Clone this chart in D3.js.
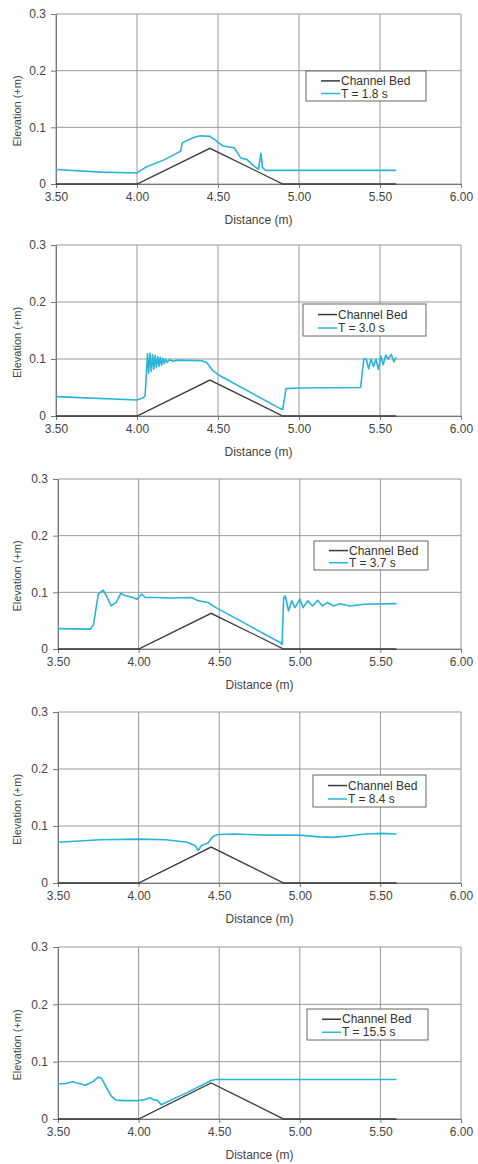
<!DOCTYPE html>
<html><head><meta charset="utf-8">
<script src="https://cdn.jsdelivr.net/npm/d3@7"></script>
<style>
body{margin:0;background:#fff}
svg{display:block}
text{font-family:"Liberation Sans",Arial,sans-serif}
</style>
</head><body>
<svg id="c" width="478" height="1164"></svg>
<script>
// ---- data ----
const xTicks = [3.5, 4.0, 4.5, 5.0, 5.5, 6.0];
const yTicks = [0, 0.1, 0.2, 0.3];
const bedX = [3.5, 4.0, 4.45, 4.9, 5.6];
const bedY = [0, 0, 0.063, 0, 0];
const bedLabel = "Channel Bed";
const seriesLabels = ["T = 1.8 s", "T = 3.0 s", "T = 3.7 s", "T = 8.4 s", "T = 15.5 s"];

const t18X = [3.5, 3.78, 4.0, 4.05, 4.17, 4.27, 4.28, 4.35, 4.39, 4.45, 4.49, 4.53, 4.6, 4.64, 4.68, 4.72, 4.75, 4.765, 4.775, 4.79, 4.8, 5.6];
const t18Y = [0.0255, 0.021, 0.0195, 0.029, 0.043, 0.058, 0.073, 0.082, 0.085, 0.084, 0.076, 0.067, 0.064, 0.046, 0.043, 0.032, 0.026, 0.054, 0.029, 0.025, 0.024, 0.024];

const t30X = [3.5, 4.0, 4.04, 4.05, 4.065, 4.072, 4.08, 4.088, 4.096, 4.104, 4.112, 4.12, 4.128, 4.136, 4.144, 4.152, 4.16, 4.168, 4.176, 4.185, 4.2, 4.22, 4.25, 4.4, 4.43, 4.47, 4.51, 4.89, 4.9, 4.92, 5.0, 5.38, 5.4, 5.415, 5.43, 5.445, 5.46, 5.475, 5.49, 5.505, 5.52, 5.535, 5.55, 5.57, 5.585, 5.6];
const t30Y = [0.034, 0.028, 0.032, 0.036, 0.109, 0.075, 0.11, 0.078, 0.108, 0.082, 0.106, 0.085, 0.104, 0.087, 0.103, 0.089, 0.101, 0.092, 0.1, 0.094, 0.099, 0.096, 0.098, 0.097, 0.094, 0.079, 0.071, 0.012, 0.012, 0.048, 0.049, 0.05, 0.1, 0.1, 0.083, 0.1, 0.087, 0.1, 0.082, 0.105, 0.09, 0.107, 0.1, 0.108, 0.095, 0.103];

const t37X = [3.5, 3.7, 3.72, 3.75, 3.78, 3.8, 3.83, 3.86, 3.89, 3.92, 3.95, 3.99, 4.02, 4.04, 4.1, 4.2, 4.33, 4.37, 4.43, 4.48, 4.88, 4.89, 4.9, 4.91, 4.93, 4.95, 4.97, 5.0, 5.02, 5.05, 5.08, 5.11, 5.14, 5.17, 5.21, 5.25, 5.31, 5.4, 5.6];
const t37Y = [0.036, 0.035, 0.043, 0.097, 0.104, 0.094, 0.076, 0.082, 0.098, 0.094, 0.092, 0.088, 0.097, 0.091, 0.091, 0.09, 0.091, 0.085, 0.082, 0.073, 0.011, 0.008, 0.091, 0.094, 0.067, 0.085, 0.073, 0.088, 0.073, 0.085, 0.076, 0.086, 0.076, 0.082, 0.076, 0.08, 0.076, 0.079, 0.08];

const t84X = [3.5, 3.76, 4.0, 4.17, 4.3, 4.35, 4.37, 4.39, 4.43, 4.46, 4.49, 4.59, 4.79, 5.0, 5.12, 5.21, 5.31, 5.41, 5.51, 5.6];
const t84Y = [0.0715, 0.076, 0.077, 0.076, 0.0715, 0.066, 0.057, 0.066, 0.07, 0.081, 0.085, 0.086, 0.084, 0.084, 0.081, 0.08, 0.083, 0.086, 0.087, 0.086];

const t155X = [3.5, 3.55, 3.59, 3.63, 3.67, 3.72, 3.75, 3.77, 3.8, 3.83, 3.86, 3.92, 4.0, 4.04, 4.07, 4.09, 4.12, 4.14, 4.3, 4.45, 4.48, 5.6];
const t155Y = [0.061, 0.062, 0.065, 0.062, 0.059, 0.066, 0.073, 0.071, 0.055, 0.04, 0.033, 0.032, 0.032, 0.034, 0.037, 0.034, 0.032, 0.025, 0.046, 0.067, 0.069, 0.069];

const seriesX = [t18X, t30X, t37X, t84X, t155X];
const seriesY = [t18Y, t30Y, t37Y, t84Y, t155Y];

// ---- layout ----
const panels = [
  {top: 14,  bottom: 184,  left: 56, lgX: 306, lgY: 71,   lgW: 120, lgH: 30},
  {top: 245, bottom: 416,  left: 56, lgX: 303, lgY: 304,  lgW: 123, lgH: 32},
  {top: 479, bottom: 649,  left: 58, lgX: 314, lgY: 541,  lgW: 114, lgH: 29},
  {top: 712, bottom: 883,  left: 58, lgX: 313, lgY: 775,  lgW: 113, lgH: 32},
  {top: 947, bottom: 1119, left: 58, lgX: 307, lgY: 1009, lgW: 121, lgH: 31}
];
const right = 461;
const cyan = "#2ab4d8";
const bedColor = "#3a3a3a";
const gridColor = "#999";
const textColor = "#444";

const svg = d3.select("#c");

panels.forEach((p, i) => {
  const x = d3.scaleLinear().domain([3.5, 6.0]).range([p.left, right]);
  const y = d3.scaleLinear().domain([0, 0.3]).range([p.bottom, p.top]);
  const g = svg.append("g");

  // grid
  g.selectAll(".vg").data(xTicks).join("line")
    .attr("x1", d => x(d)).attr("x2", d => x(d))
    .attr("y1", p.top).attr("y2", p.bottom)
    .attr("stroke", gridColor).attr("stroke-width", 1);
  g.selectAll(".hg").data(yTicks).join("line")
    .attr("x1", p.left).attr("x2", right)
    .attr("y1", d => y(d)).attr("y2", d => y(d))
    .attr("stroke", gridColor).attr("stroke-width", 1);

  // axes
  const xa = g.append("g").attr("transform", `translate(0,${p.bottom})`)
    .call(d3.axisBottom(x).tickValues(xTicks).tickFormat(d3.format(".2f")).tickSize(4).tickPadding(4));
  const ya = g.append("g").attr("transform", `translate(${p.left},0)`)
    .call(d3.axisLeft(y).tickValues(yTicks).tickFormat(d => d === 0 ? "0" : d3.format(".1f")(d)).tickSize(5).tickPadding(5));
  [xa, ya].forEach(a => {
    a.select(".domain").attr("stroke", "#777");
    a.selectAll(".tick line").attr("stroke", "#777");
    a.selectAll("text").attr("fill", textColor).attr("font-size", 12)
      .attr("font-family", '"Liberation Sans",Arial,sans-serif');
  });

  // axis titles
  g.append("text").attr("x", (p.left + right) / 2).attr("y", p.bottom + 40)
    .attr("text-anchor", "middle").attr("font-size", 12).attr("fill", textColor)
    .text("Distance (m)");
  g.append("text")
    .attr("transform", `translate(21,${(p.top + p.bottom) / 2 + 12}) rotate(-90)`)
    .attr("text-anchor", "middle").attr("font-size", 11).attr("fill", textColor)
    .text("Elevation (+m)");

  const line = d3.line().x(d => x(d[0])).y(d => y(d[1]));

  // bed
  g.append("path").datum(d3.zip(bedX, bedY)).attr("d", line)
    .attr("fill", "none").attr("stroke", bedColor).attr("stroke-width", 1.3);
  // water
  g.append("path").datum(d3.zip(seriesX[i], seriesY[i])).attr("d", line)
    .attr("fill", "none").attr("stroke", cyan).attr("stroke-width", 1.6)
    .attr("stroke-linejoin", "round");

  // legend
  const lg = g.append("g").attr("transform", `translate(${p.lgX},${p.lgY})`);
  lg.append("rect").attr("width", p.lgW).attr("height", p.lgH)
    .attr("fill", "#fff").attr("stroke", "#666").attr("stroke-width", 1);
  const rows = [[bedLabel, bedColor], [seriesLabels[i], cyan]];
  rows.forEach((r, k) => {
    const cy = p.lgH * (k === 0 ? 0.33 : 0.75);
    lg.append("line").attr("x1", 15).attr("x2", 34).attr("y1", cy).attr("y2", cy)
      .attr("stroke", r[1]).attr("stroke-width", 1.5);
    lg.append("text").attr("x", 35).attr("y", cy + 4)
      .attr("font-size", 12).attr("fill", "#333").text(r[0]);
  });
});
</script>
</body></html>
